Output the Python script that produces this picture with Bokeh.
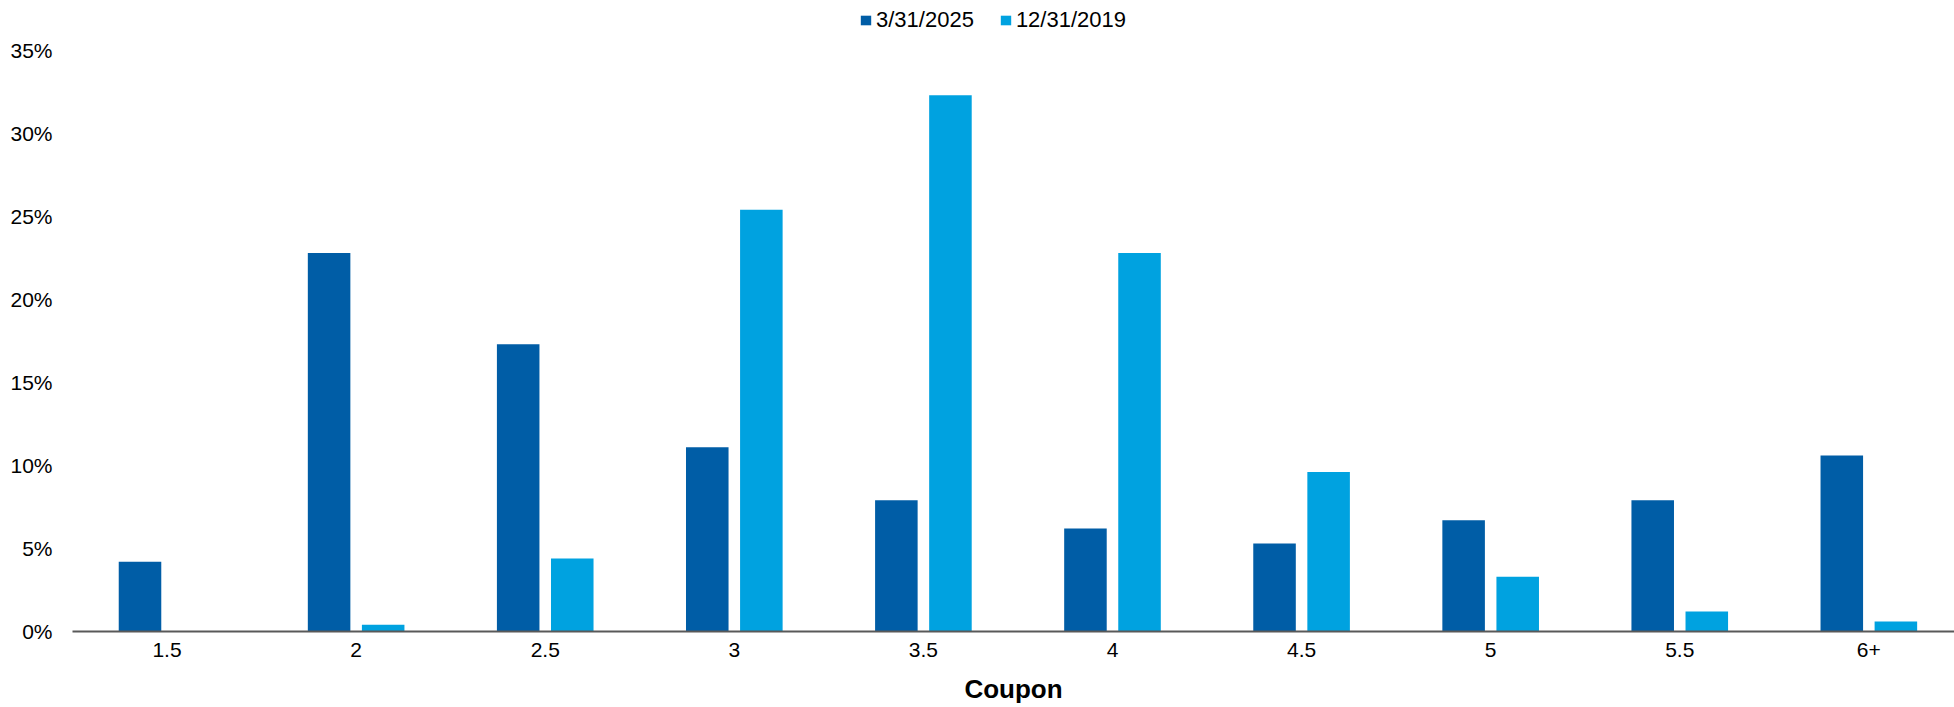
import numpy as np
from bokeh.plotting import figure
from bokeh.models import Range1d, FixedTicker, ColumnDataSource, Legend, LegendItem, PrintfTickFormatter
from bokeh.embed import file_html
from bokeh.resources import INLINE

coupons = ["1.5", "2", "2.5", "3", "3.5", "4", "4.5", "5", "5.5", "6+"]
series_names = ["3/31/2025", "12/31/2019"]
share_2025 = [4.2, 22.8, 17.3, 11.1, 7.9, 6.2, 5.3, 6.7, 7.9, 10.6]
share_2019 = [0.0, 0.4, 4.4, 25.4, 32.3, 22.8, 9.6, 3.3, 1.2, 0.6]
y_ticks = [0, 5, 10, 15, 20, 25, 30, 35]

DARK = "#005DA6"
LIGHT = "#00A2E0"
FONT = "Liberation Sans"

centers = np.arange(len(coupons)) + 0.5
src = ColumnDataSource(dict(x1=centers - 0.143, x2=centers + 0.143, a=share_2025, b=share_2019))

W, H = 1954, 707
p = figure(width=W, height=H, output_backend="svg", toolbar_location=None,
           x_range=Range1d(0, 9.953), y_range=Range1d(0, 38.0),
           min_border_left=72, min_border_right=0, min_border_top=0, min_border_bottom=76)
p.outline_line_color = None
p.background_fill_color = "white"
p.border_fill_color = "white"
p.xgrid.grid_line_color = None
p.ygrid.grid_line_color = None

r1 = p.vbar(x="x1", top="a", width=0.225, bottom=0, source=src, fill_color=DARK, line_color=None)
r2 = p.vbar(x="x2", top="b", width=0.225, bottom=0, source=src, fill_color=LIGHT, line_color=None)

# x axis
xa = p.xaxis[0]
xa.ticker = FixedTicker(ticks=list(centers))
xa.major_label_overrides = {float(c): lab for c, lab in zip(centers, coupons)}
xa.major_tick_line_color = None
xa.major_tick_out = 0
xa.major_tick_in = 0
xa.minor_tick_line_color = None
xa.minor_tick_out = 0
xa.axis_line_color = "#595959"
xa.axis_line_width = 2
xa.major_label_text_font = FONT
xa.major_label_text_font_size = "21px"
xa.major_label_text_color = "#000000"
xa.major_label_standoff = 11
xa.axis_label = "Coupon"
xa.axis_label_text_font = FONT
xa.axis_label_text_font_style = "bold"
xa.axis_label_text_font_size = "26px"
xa.axis_label_text_color = "#000000"
xa.axis_label_standoff = 14

# y axis
ya = p.yaxis[0]
ya.ticker = FixedTicker(ticks=y_ticks)
ya.formatter = PrintfTickFormatter(format="%d%%")
ya.axis_line_color = None
ya.major_tick_line_color = None
ya.major_tick_out = 0
ya.major_tick_in = 0
ya.minor_tick_line_color = None
ya.minor_tick_out = 0
ya.major_label_text_font = FONT
ya.major_label_text_font_size = "21px"
ya.major_label_text_color = "#000000"
ya.major_label_standoff = 20

legend = Legend(items=[LegendItem(label=series_names[0], renderers=[r1]),
                       LegendItem(label=series_names[1], renderers=[r2])],
                orientation="horizontal", location=(787, 598),
                glyph_width=13, glyph_height=12, label_standoff=4, spacing=25,
                padding=0, margin=0, border_line_color=None, background_fill_alpha=0,
                label_text_font=FONT, label_text_font_size="22px", label_text_color="#000000")
p.add_layout(legend, "center")

open("out.html", "w").write(file_html(p, INLINE))
